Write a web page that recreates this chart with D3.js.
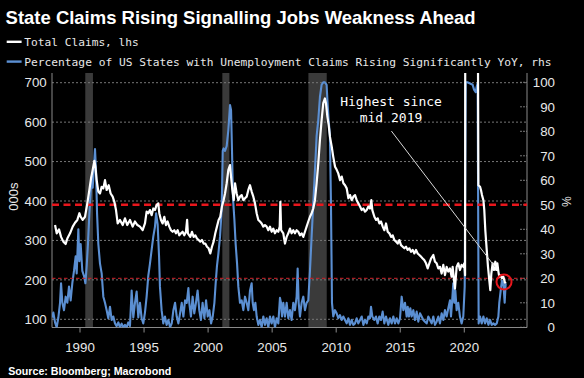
<!DOCTYPE html>
<html><head><meta charset="utf-8">
<script src="https://cdn.jsdelivr.net/npm/d3@7"></script>
<style>html,body{margin:0;padding:0;background:#000}svg{display:block}</style>
</head><body><svg id="c" width="584" height="378"></svg>
<script>
// ---------- DATA ----------
const claimsYears = [1988.09,1988.22,1988.40,1988.56,1988.74,1988.92,1989.05,1989.26,1989.47,1989.65,1989.83,1989.99,1990.09,1990.25,1990.43,1990.61,1990.77,1990.90,1991.03,1991.16,1991.24,1991.34,1991.47,1991.60,1991.73,1991.86,1991.99,1992.12,1992.28,1992.43,1992.59,1992.72,1992.85,1992.98,1993.16,1993.37,1993.55,1993.73,1993.94,1994.15,1994.33,1994.52,1994.72,1994.93,1995.11,1995.24,1995.37,1995.50,1995.63,1995.76,1995.89,1996.02,1996.15,1996.23,1996.36,1996.49,1996.62,1996.75,1996.88,1997.01,1997.14,1997.27,1997.40,1997.53,1997.66,1997.79,1997.92,1998.05,1998.18,1998.31,1998.40,1998.46,1998.65,1998.78,1998.91,1999.04,1999.17,1999.30,1999.43,1999.56,1999.69,1999.82,1999.95,2000.08,2000.21,2000.34,2000.47,2000.60,2000.73,2000.86,2000.99,2001.12,2001.25,2001.36,2001.49,2001.62,2001.75,2001.83,2001.93,2002.04,2002.14,2002.27,2002.40,2002.53,2002.66,2002.79,2002.92,2003.05,2003.18,2003.31,2003.44,2003.57,2003.70,2003.83,2003.96,2004.09,2004.22,2004.35,2004.48,2004.61,2004.74,2004.87,2005.00,2005.13,2005.26,2005.39,2005.52,2005.63,2005.68,2005.74,2005.91,2006.04,2006.17,2006.30,2006.43,2006.56,2006.69,2006.82,2006.95,2007.08,2007.21,2007.34,2007.47,2007.60,2007.73,2007.86,2007.99,2008.12,2008.25,2008.38,2008.51,2008.64,2008.77,2008.90,2009.03,2009.16,2009.24,2009.35,2009.45,2009.55,2009.69,2009.81,2009.95,2010.08,2010.20,2010.34,2010.47,2010.60,2010.73,2010.86,2010.99,2011.12,2011.25,2011.38,2011.51,2011.64,2011.77,2011.90,2012.03,2012.16,2012.29,2012.42,2012.55,2012.68,2012.78,2012.86,2013.02,2013.15,2013.28,2013.41,2013.54,2013.67,2013.80,2013.93,2014.06,2014.19,2014.32,2014.45,2014.58,2014.71,2014.84,2014.97,2015.10,2015.23,2015.36,2015.49,2015.62,2015.75,2015.88,2016.01,2016.14,2016.27,2016.40,2016.53,2016.66,2016.79,2016.92,2017.05,2017.18,2017.31,2017.44,2017.62,2017.75,2017.88,2018.01,2018.14,2018.27,2018.40,2018.53,2018.66,2018.79,2018.92,2019.05,2019.13,2019.24,2019.31,2019.44,2019.57,2019.70,2019.83,2019.96,2020.04,2020.10,2020.16,2020.22,2020.50,2020.80,2021.05,2021.11,2021.14,2021.27,2021.34,2021.42,2021.53,2021.60,2021.68,2021.79,2021.89,2021.99,2022.07,2022.15,2022.25,2022.36,2022.46,2022.54,2022.62,2022.70,2022.77,2022.88,2022.98,2023.09,2023.19,2023.27];
const claimsValues = [339,318,328,309,297,291,305,318,335,345,352,369,360,352,360,394,428,457,479,502,487,453,424,419,436,432,453,428,440,419,411,398,377,343,352,339,356,339,352,335,348,339,335,326,343,373,369,377,364,381,377,390,394,369,352,343,360,339,348,335,326,322,326,318,326,313,318,322,313,322,352,318,309,322,309,313,305,301,297,301,292,292,284,280,267,284,297,318,335,352,360,386,402,419,445,479,491,462,428,402,445,419,402,411,415,402,407,411,428,440,424,411,394,369,352,348,343,335,339,335,326,335,322,330,318,326,322,335,398,326,318,292,309,318,330,318,326,318,326,322,313,318,309,322,335,348,360,369,381,402,445,495,555,605,648,660,648,614,593,563,538,512,487,479,470,453,462,445,440,432,407,415,402,411,415,402,394,386,377,381,373,377,386,381,402,377,360,352,356,343,348,335,326,343,322,318,309,313,301,297,292,301,288,284,280,284,276,280,271,276,267,276,267,263,259,254,250,242,229,242,254,263,246,242,229,233,216,238,212,233,221,229,208,233,199,178,233,242,225,238,233,242,212,3000,6000,1500,850,800,730,440,436,428,415,402,377,326,276,233,199,174,216,242,225,246,225,242,221,208,212,204,208,195,191];

const statesYears = [1987.86,1987.96,1988.09,1988.22,1988.35,1988.48,1988.56,1988.66,1988.79,1988.92,1989.05,1989.18,1989.31,1989.44,1989.57,1989.70,1989.78,1989.91,1989.99,1990.09,1990.22,1990.35,1990.46,1990.56,1990.66,1990.77,1990.87,1990.95,1991.03,1991.11,1991.21,1991.29,1991.37,1991.47,1991.60,1991.73,1991.86,1991.99,1992.12,1992.25,1992.38,1992.51,1992.64,1992.77,1992.90,1993.03,1993.16,1993.29,1993.42,1993.55,1993.68,1993.81,1993.94,1994.07,1994.20,1994.33,1994.46,1994.59,1994.72,1994.85,1994.98,1995.11,1995.24,1995.37,1995.50,1995.63,1995.76,1995.89,1995.98,1996.10,1996.21,1996.28,1996.41,1996.54,1996.67,1996.80,1996.94,1997.07,1997.20,1997.33,1997.46,1997.59,1997.72,1997.85,1997.98,1998.11,1998.24,1998.37,1998.50,1998.57,1998.70,1998.83,1998.96,1999.09,1999.22,1999.35,1999.48,1999.61,1999.75,1999.88,2000.01,2000.14,2000.27,2000.40,2000.53,2000.63,2000.73,2000.84,2000.97,2001.10,2001.18,2001.25,2001.36,2001.49,2001.62,2001.75,2001.83,2001.91,2001.98,2002.09,2002.19,2002.30,2002.40,2002.53,2002.66,2002.79,2002.92,2003.05,2003.18,2003.31,2003.44,2003.52,2003.62,2003.73,2003.83,2003.96,2004.09,2004.22,2004.35,2004.48,2004.61,2004.74,2004.87,2005.00,2005.13,2005.26,2005.39,2005.52,2005.65,2005.73,2005.81,2005.91,2006.04,2006.17,2006.30,2006.43,2006.56,2006.69,2006.82,2006.95,2007.03,2007.11,2007.21,2007.34,2007.47,2007.60,2007.73,2007.86,2007.99,2008.12,2008.25,2008.38,2008.51,2008.64,2008.77,2008.90,2009.03,2009.16,2009.29,2009.37,2009.45,2009.55,2009.63,2009.71,2009.81,2009.945,2010.075,2010.20,2010.335,2010.465,2010.595,2010.725,2010.855,2010.985,2011.115,2011.245,2011.375,2011.505,2011.635,2011.765,2011.90,2012.03,2012.16,2012.29,2012.42,2012.55,2012.68,2012.755,2012.86,2013.015,2013.145,2013.275,2013.405,2013.535,2013.665,2013.795,2013.925,2014.11,2014.24,2014.37,2014.50,2014.63,2014.76,2014.89,2015.02,2015.15,2015.28,2015.41,2015.54,2015.62,2015.72,2015.825,2015.93,2016.06,2016.19,2016.32,2016.45,2016.58,2016.71,2016.84,2016.97,2017.10,2017.23,2017.36,2017.49,2017.62,2017.75,2017.88,2018.01,2018.14,2018.27,2018.40,2018.53,2018.66,2018.79,2018.92,2019.00,2019.08,2019.18,2019.26,2019.34,2019.44,2019.57,2019.70,2019.83,2019.96,2020.07,2020.15,2020.28,2020.49,2020.69,2020.80,2020.93,2021.00,2021.08,2021.16,2021.265,2021.40,2021.53,2021.655,2021.79,2021.92,2022.05,2022.18,2022.31,2022.44,2022.57,2022.70,2022.77,2022.88,2022.98,2023.09,2023.19,2023.27];
const statesValues = [4,6,2,0,4,10,18,10,7,12.5,10,16.6,11,18,23,29,22,40,27,34,23,21,18,25,34,46.5,55,61.5,57,64,72.8,64,46.5,34,26,22,12.5,10,7,3.7,8.4,3,4.4,1.6,0.5,2,0,1.5,0,1,0,2,0.5,15,4,10,14.6,4,10,3.7,1.6,6,12.5,21,26,31.6,37,41,46.5,42,29,16.6,7,1.6,4.4,1,3,0,1.6,7,10,4.4,1.6,5.7,10,4.4,11,10,16,10,4.4,12.5,5.7,10,15,7,3,10,3.7,11,4.4,7,1.6,4.4,10,18,25,30,37,48,72,73,72,74,80.5,90.7,88.7,71,53,44,34,26,16.6,10,11,7,12.5,10,7,15,18,10,7,10,4.4,1,3,0,4.4,1,3.7,0,4.4,1.6,4.4,0,3.7,1.6,12,10,4.4,10,4.4,10,3.7,7,3,10,7,12.5,24,10,4.4,10,12.5,7,10,11,23,37,50.6,64,78,84.6,94,99,100,100,99,91,84.6,78,50.6,10,4.4,7,5.7,3.7,5,3,4.4,3,1.6,3.7,1,3,1,1.6,3.7,1.6,3,4.4,1,3,1.6,4.4,3.7,8.4,4.4,3,4.4,1.6,4.4,3,6.4,1.6,4.4,1,3.7,1.6,4.4,1.6,3.7,1.6,3.7,12.5,7,10,4.4,8.4,4.4,7.8,4.4,7,3,6.4,2.3,5.7,4.4,3,2.3,1.6,4.4,3,1.6,4.4,1,2.3,4.4,1.6,5.7,3,7,4.4,7.8,11,4.4,10,18,10,15,7,10,4.4,1.6,4.4,16.6,100,100,99.5,99,97,96,98,99.6,1.6,4.4,1.6,4.4,1.6,3.7,1,3,1,1.6,1,1.6,4.4,10,15,19,18,10,18];

const recessionStarts = [1990.45, 2001.15, 2007.87];
const recessionEnds   = [1991.05, 2001.70, 2009.30];

const xTickYears = [1990, 1995, 2000, 2005, 2010, 2015, 2020];
const leftTicks  = [100, 200, 300, 400, 500, 600, 700];
const rightTicks = [0, 10, 20, 30, 40, 50, 60, 70, 80, 90, 100];
const thresholdMajor = 50;   // % rhs, thick dashed
const thresholdMinor = 20;   // % rhs, thin dashed

const titleText = "State Claims Rising Signalling Jobs Weakness Ahead";
const legendLabels = ["Total Claims, lhs", "Percentage of US States with Unemployment Claims Rising Significantly YoY, rhs"];
const annotationLines = ["Highest since", "mid 2019"];
const sourceText = "Source: Bloomberg; Macrobond";

// ---------- CHART ----------
const svg = d3.select("#c");
const L = 52, R = 527, T = 73, B = 327.5;
const WHITE = "#ffffff", BLUE = "#5b8fd2", RED = "#e8161c", AXIS = "#8a8a8a", TXT = "#e8e8e8";

svg.append("rect").attr("width", 584).attr("height", 378).attr("fill", "#000");

const x  = d3.scaleLinear().domain([1987.853, 2024.934]).range([L, R]);
const yL = d3.scaleLinear().domain([100, 700]).range([319.3, 82.7]);
const yR = d3.scaleLinear().domain([0, 100]).range([327.3, 82.3]);

svg.append("defs").append("clipPath").attr("id", "clip")
  .append("rect").attr("x", L).attr("y", T).attr("width", R - L).attr("height", B - T);

// recession bands
svg.append("g").selectAll("rect").data(recessionStarts).join("rect")
  .attr("x", d => x(d)).attr("width", (d, i) => x(recessionEnds[i]) - x(d))
  .attr("y", T).attr("height", B - T).attr("fill", "#3a3a3a");

// gridlines (left axis)
svg.append("g").selectAll("line").data(leftTicks).join("line")
  .attr("x1", L).attr("x2", R).attr("y1", d => yL(d)).attr("y2", d => yL(d))
  .attr("stroke", "#777").attr("stroke-width", 1).attr("stroke-dasharray", "2,2");

// right inward ticks
svg.append("g").selectAll("line").data(rightTicks).join("line")
  .attr("x1", R - 7).attr("x2", R).attr("y1", d => yR(d)).attr("y2", d => yR(d))
  .attr("stroke", "#777").attr("stroke-width", 1).attr("stroke-dasharray", "2,1");

// axis lines
const ax = svg.append("g").attr("stroke", AXIS).attr("stroke-width", 1);
ax.append("line").attr("x1", L).attr("x2", L).attr("y1", T).attr("y2", B);
ax.append("line").attr("x1", R).attr("x2", R).attr("y1", T).attr("y2", B);
ax.append("line").attr("x1", L).attr("x2", R).attr("y1", B).attr("y2", B);

const tickFont = "'Liberation Sans', Arial, sans-serif";
function styleAxis(g) {
  g.select(".domain").remove();
  g.selectAll(".tick line").attr("stroke", AXIS);
  g.selectAll("text").attr("fill", TXT).style("font-family", tickFont).style("font-size", "13.3px");
}

svg.append("g").attr("transform", `translate(${L},0)`)
  .call(d3.axisLeft(yL).tickValues(leftTicks).tickSize(0).tickPadding(5.3))
  .call(styleAxis);

svg.append("g").attr("transform", `translate(${R},0)`)
  .call(d3.axisRight(yR).tickValues(rightTicks).tickSize(0).tickPadding(28))
  .call(styleAxis)
  .call(g => g.selectAll("text").attr("text-anchor", "end"));

svg.append("g").attr("transform", `translate(0,${B})`)
  .call(d3.axisBottom(x).tickValues(xTickYears).tickFormat(d3.format("d")).tickSize(5).tickPadding(9.6))
  .call(styleAxis);

// axis titles
svg.append("text").attr("transform", "translate(13.3,196.7) rotate(-90)")
  .attr("text-anchor", "middle").attr("dy", "0.35em")
  .attr("fill", TXT).style("font-family", tickFont).style("font-size", "13px").text("000s");
svg.append("text").attr("transform", "translate(566.7,201.7) rotate(90)")
  .attr("text-anchor", "middle").attr("dy", "0.35em")
  .attr("fill", TXT).style("font-family", tickFont).style("font-size", "12px").text("%");

// series
const plot = svg.append("g").attr("clip-path", "url(#clip)");
const statesData = d3.zip(statesYears, statesValues);
const claimsData = d3.zip(claimsYears, claimsValues);

plot.append("path").datum(statesData)
  .attr("d", d3.line().x(d => x(d[0])).y(d => yR(d[1])))
  .attr("fill", "none").attr("stroke", BLUE).attr("stroke-width", 2.1).attr("stroke-linejoin", "round");

// threshold lines (rhs)
plot.append("line").attr("x1", L).attr("x2", R)
  .attr("y1", yR(thresholdMajor)).attr("y2", yR(thresholdMajor))
  .attr("stroke", RED).attr("stroke-width", 2.6).attr("stroke-dasharray", "7,4.5");
plot.append("line").attr("x1", L).attr("x2", R)
  .attr("y1", yR(thresholdMinor)).attr("y2", yR(thresholdMinor))
  .attr("stroke", "#d0222a").attr("stroke-width", 1).attr("stroke-dasharray", "3.5,2.5");

plot.append("path").datum(claimsData)
  .attr("d", d3.line().x(d => x(d[0])).y(d => yL(d[1])))
  .attr("fill", "none").attr("stroke", WHITE).attr("stroke-width", 2.2).attr("stroke-linejoin", "round");

// annotation
const annX = x(2014.32);
const mono = "'DejaVu Sans Mono', monospace";
svg.append("g").selectAll("text").data(annotationLines).join("text")
  .attr("x", annX).attr("y", (d, i) => yR(90.5) + i * 16)
  .attr("text-anchor", "middle").attr("fill", WHITE)
  .style("font-family", mono).style("font-size", "13px").text(d => d);
svg.append("line")
  .attr("x1", x(2014.35)).attr("y1", yR(80.1))
  .attr("x2", x(2022.44)).attr("y2", yR(24.6))
  .attr("stroke", "#d8d8d8").attr("stroke-width", 1);
svg.append("circle").attr("cx", x(2023.14)).attr("cy", yR(18.5)).attr("r", 7.5)
  .attr("fill", "none").attr("stroke", RED).attr("stroke-width", 2);

// title
svg.append("text").attr("x", 5.6).attr("y", 24.2).attr("fill", WHITE)
  .attr("textLength", 470).attr("lengthAdjust", "spacingAndGlyphs")
  .style("font-family", "'Liberation Sans', Arial, sans-serif").style("font-weight", "bold").style("font-size", "18.4px")
  .text(titleText);

// legend
const legendColors = [WHITE, BLUE];
const legendWidths = [114.5, 527.2];
const lg = svg.append("g").selectAll("g").data(legendLabels).join("g")
  .attr("transform", (d, i) => `translate(0,${41.8 + i * 19.8})`);
lg.append("line").attr("x1", 6.7).attr("x2", 21.6).attr("y1", 0).attr("y2", 0)
  .attr("stroke", (d, i) => legendColors[i]).attr("stroke-width", 2.4);
lg.append("text").attr("x", 24.3).attr("y", 4.2).attr("fill", TXT)
  .attr("textLength", (d, i) => legendWidths[i]).attr("lengthAdjust", "spacingAndGlyphs")
  .style("font-family", mono).style("font-size", "11.2px").text(d => d);

// source
svg.append("text").attr("x", 8.2).attr("y", 375).attr("fill", WHITE)
  .attr("textLength", 163).attr("lengthAdjust", "spacingAndGlyphs")
  .style("font-family", "'Liberation Sans', Arial, sans-serif").style("font-weight", "bold").style("font-size", "11px")
  .text(sourceText);
</script>
</body></html>
